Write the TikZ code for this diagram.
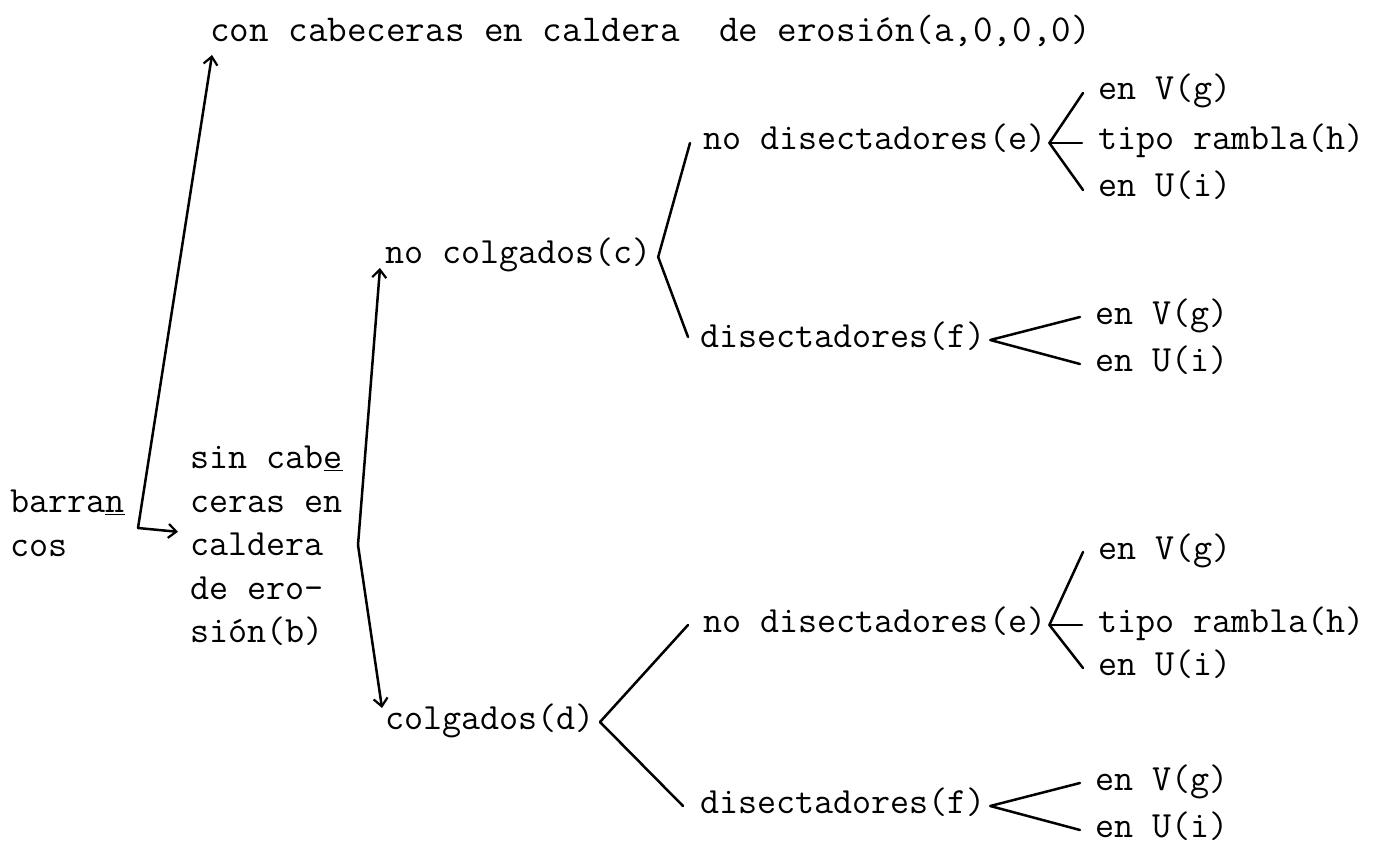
\documentclass[tikz,border=0pt]{standalone}
\usepackage{fontspec}
\usetikzlibrary{arrows.meta}
\begin{document}
\begin{tikzpicture}[x=1pt,y=-1pt,
  lbl/.style={font={\ttfamily\fontsize{37pt}{43.4pt}\selectfont}, inner sep=0pt, anchor=west, text height=20pt, text depth=6pt},
  mlbl/.style={font={\ttfamily\fontsize{37pt}{43.4pt}\selectfont}, inner sep=0pt, anchor=north west, align=left},
  conn/.style={line width=2.5pt, line cap=round, line join=round},
  arr/.style={conn, -{Straight Barb[length=8pt,width=14pt,line width=2.2pt]}}]
\useasboundingbox (0,0) rectangle (1374,853);
% nodes
\node[lbl, font={\ttfamily\fontsize{38pt}{43.4pt}\selectfont}] (a) at (210,35) {con cabeceras en caldera\ \ de erosión(a,0,0,0)};
\node[mlbl] (bar) at (10,490) {barra\underline{n}\\cos};
\node[mlbl] (b) at (190,446) {sin cab\underline{e}\\ceras en\\caldera\\de ero-\\sión(b)};
\node[lbl] (c) at (385,257) {no colgados(c)};
\node[lbl] (d) at (385,722) {colgados(d)};
\node[lbl] (e1) at (703,143) {no disectadores(e)};
\node[lbl] (f1) at (700,340) {disectadores(f)};
\node[lbl] (e2) at (703,625) {no disectadores(e)};
\node[lbl] (f2) at (700,806) {disectadores(f)};
\node[lbl] (g1) at (1098,93) {en V(g)};
\node[lbl] (h1) at (1098,143) {tipo rambla(h)};
\node[lbl] (i1) at (1098,190) {en U(i)};
\node[lbl] (g2) at (1095,317) {en V(g)};
\node[lbl] (i2) at (1095,364) {en U(i)};
\node[lbl] (g3) at (1098,552) {en V(g)};
\node[lbl] (h3) at (1098,625) {tipo rambla(h)};
\node[lbl] (i3) at (1098,668) {en U(i)};
\node[lbl] (g4) at (1095,783) {en V(g)};
\node[lbl] (i4) at (1095,830) {en U(i)};
% connectors
\coordinate (k1) at (138,528);
\coordinate (k2) at (358,545);
\draw[arr] (k1) -- ([xshift=2pt,yshift=-20pt]a.west);
\draw[arr] (k1) -- ([xshift=-12pt,yshift=14pt]b.west);
\draw[arr] (k2) -- ([xshift=-5pt,yshift=-11pt]c.west);
\draw[arr] (k2) -- ([xshift=-3pt,yshift=14pt]d.west);
\draw[conn] ([xshift=-13pt]e1.west) -- ([xshift=6pt]c.east) -- ([xshift=-12pt,yshift=3pt]f1.west);
\draw[conn] ([xshift=-15pt]e2.west) -- ([xshift=5pt]d.east) -- ([xshift=-17pt]f2.west);
\draw[conn] ([xshift=-15pt]g1.west) -- ([xshift=3pt]e1.east) -- ([xshift=-15pt]i1.west);
\draw[conn] ([xshift=3pt]e1.east) -- ([xshift=-16pt]h1.west);
\draw[conn] ([xshift=-15pt]g2.west) -- ([xshift=4pt]f1.east) -- ([xshift=-15pt]i2.west);
\draw[conn] ([xshift=-15pt]g3.west) -- ([xshift=3pt]e2.east) -- ([xshift=-15pt]i3.west);
\draw[conn] ([xshift=3pt]e2.east) -- ([xshift=-16pt]h3.west);
\draw[conn] ([xshift=-15pt]g4.west) -- ([xshift=4pt]f2.east) -- ([xshift=-15pt]i4.west);
\end{tikzpicture}
\end{document}
